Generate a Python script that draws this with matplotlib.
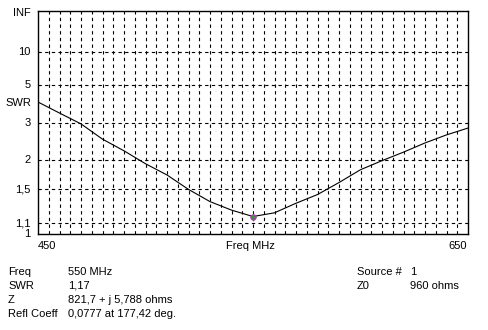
import numpy as np
import matplotlib
matplotlib.use("Agg")
import matplotlib.pyplot as plt

# SWR sweep
freq_mhz = [450, 460, 470, 480, 490, 500, 510, 520, 530, 540, 550,
            560, 570, 580, 590, 600, 610, 620, 630, 640, 650]
swr = [3.90, 3.37, 2.95, 2.48, 2.19, 1.92, 1.72, 1.50, 1.34, 1.24, 1.17,
       1.21, 1.32, 1.43, 1.60, 1.81, 1.98, 2.16, 2.38, 2.60, 2.81]

swr_ticks = [1, 1.1, 1.5, 2, 3, 5, 10]
swr_tick_labels = ["1", "1,1", "1,5", "2", "3", "5", "10"]

marker_freq = 550
marker_swr = 1.17

info_left = [("Freq", "550 MHz"), ("SWR", "1,17"), ("Z", "821,7 + j 5,788 ohms"),
             ("Refl Coeff", "0,0777 at 177,42 deg.")]
info_right = [("Source #", "1"), ("Z0", "960 ohms")]


def rho(s):
    # the SWR axis is drawn linear in reflection coefficient
    s = np.asarray(s, dtype=float)
    return (s - 1) / (s + 1)


plt.rcParams['font.family'] = ['Liberation Sans', 'DejaVu Sans']
fs = 8

fig = plt.figure(figsize=(4.88, 3.30), dpi=100)
ax = fig.add_axes([38 / 488, 96 / 330, 430 / 488, 223 / 330])

grid_kw = dict(color='black', lw=0.8, dashes=(3, 3))
for f in np.arange(455, 650, 5):
    ax.axvline(f, **grid_kw)
for s in swr_ticks[1:]:
    ax.axhline(rho(s), **grid_kw)

ax.plot(freq_mhz, rho(swr), color='black', lw=0.8)
ax.plot(marker_freq, rho(marker_swr), marker='o', ms=3.5, color='#ff00ff', mec='#ff00ff')
ax.plot(marker_freq, rho(marker_swr), marker='+', ms=5, mew=1.0, color='#00c000')

ax.set_xlim(450, 650)
ax.set_ylim(0, 1)
ax.set_xticks([])
ax.set_yticks([])
for sp in ax.spines.values():
    sp.set_color('black')
    sp.set_linewidth(1.0)

# y labels
for s, lab in zip(swr_ticks, swr_tick_labels):
    ax.text(-0.017, rho(s), lab, transform=ax.get_yaxis_transform(),
            ha='right', va='center', fontsize=fs)
ax.text(-0.017, 0.99, "INF", transform=ax.get_yaxis_transform(),
        ha='right', va='center', fontsize=fs)
fig.text(5 / 488, 1 - 103 / 330, "SWR", ha='left', va='center', fontsize=fs)

# x labels
fig.text(38 / 488, 1 - 246 / 330, "450", ha='left', va='center', fontsize=fs)
fig.text(250 / 488, 1 - 246 / 330, "Freq MHz", ha='center', va='center', fontsize=fs)
fig.text(467 / 488, 1 - 246 / 330, "650", ha='right', va='center', fontsize=fs)

# info block
rows_y = [272, 286, 300, 314]
for (k, v), y in zip(info_left, rows_y):
    fig.text(8 / 488, 1 - y / 330, k, ha='left', va='center', fontsize=fs)
    fig.text(68 / 488, 1 - y / 330, v, ha='left', va='center', fontsize=fs)
for (k, v), y in zip(info_right, rows_y):
    fig.text(357 / 488, 1 - y / 330, k, ha='left', va='center', fontsize=fs)
    fig.text(410 / 488, 1 - y / 330, v, ha='left', va='center', fontsize=fs)

fig.savefig("out.png", dpi=100)
